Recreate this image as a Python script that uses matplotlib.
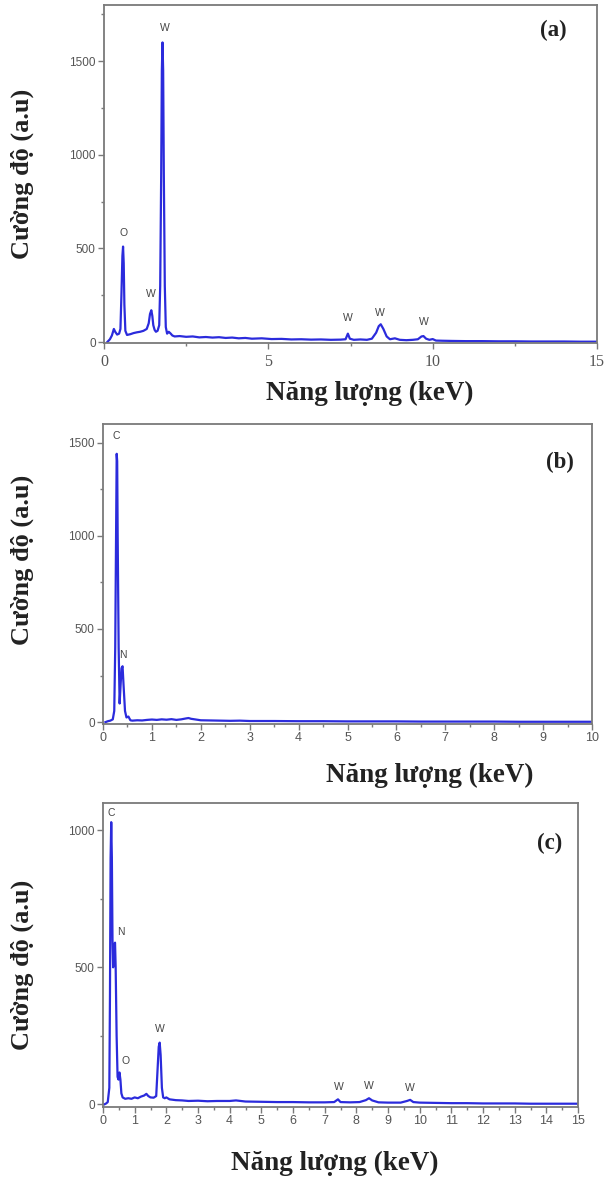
import matplotlib
matplotlib.use("Agg")
import matplotlib.pyplot as plt
from matplotlib.ticker import MultipleLocator

# ---------------- data ----------------
energy_a = [0.10, 0.18, 0.24, 0.30, 0.34, 0.40, 0.46, 0.50, 0.53, 0.56, 0.58, 0.60, 0.62, 0.65,
            0.70, 0.80, 0.90, 1.00, 1.10, 1.20, 1.30, 1.36, 1.40, 1.44, 1.47, 1.50, 1.54, 1.58,
            1.63, 1.68, 1.71, 1.74, 1.76, 1.78, 1.80, 1.82, 1.85, 1.88, 1.92, 1.97, 2.03, 2.08,
            2.15, 2.30, 2.50, 2.70, 2.90, 3.10, 3.30, 3.50, 3.70, 3.90, 4.10, 4.30, 4.50, 4.80,
            5.10, 5.40, 5.70, 6.00, 6.30, 6.60, 6.90, 7.20, 7.35, 7.42, 7.48, 7.60, 7.80, 8.00,
            8.15, 8.28, 8.36, 8.42, 8.50, 8.60, 8.70, 8.85, 9.00, 9.20, 9.40, 9.55, 9.66, 9.72,
            9.80, 9.90, 10.00, 10.10, 10.30, 10.60, 11.00, 11.50, 12.00, 12.50, 13.00, 13.50,
            14.00, 14.50, 15.00]
counts_a = [0, 15, 35, 70, 55, 40, 45, 70, 250, 460, 510, 420, 200, 60,
            38, 42, 48, 52, 55, 60, 70, 100, 150, 170, 140, 90, 65, 55,
            60, 90, 300, 900, 1450, 1600, 1450, 900, 300, 80, 45, 55, 45, 35,
            30, 32, 28, 30, 25, 27, 24, 26, 22, 24, 20, 22, 18, 20,
            16, 17, 14, 15, 13, 14, 12, 13, 15, 45, 18, 12, 14, 12,
            18, 50, 85, 95, 70, 30, 15, 20, 12, 10, 12, 15, 30, 32,
            18, 12, 16, 8, 7, 6, 5, 5, 4, 4, 3, 3,
            3, 2, 2]
peaks_a = ["O", "W", "W", "W", "W", "W"]
peak_x_a = [0.58, 1.42, 1.85, 7.43, 8.39, 9.72]
peak_y_a = [555, 230, 1650, 100, 130, 80]

energy_b = [0.05, 0.10, 0.15, 0.20, 0.23, 0.25, 0.27, 0.28, 0.29, 0.30, 0.32, 0.34, 0.36,
            0.38, 0.40, 0.42, 0.45, 0.48, 0.52, 0.56, 0.60, 0.70, 0.80, 0.90, 1.00, 1.10,
            1.20, 1.30, 1.40, 1.50, 1.60, 1.70, 1.75, 1.80, 1.90, 2.00, 2.20, 2.40, 2.60,
            2.80, 3.00, 3.50, 4.00, 4.50, 5.00, 5.50, 6.00, 6.50, 7.00, 7.50, 8.00, 8.50,
            9.00, 9.50, 10.00]
counts_b = [0, 5, 8, 15, 60, 400, 1100, 1440, 1400, 1000, 400, 100, 200,
            290, 300, 200, 60, 25, 30, 10, 8, 10, 9, 12, 14, 12,
            15, 13, 16, 12, 15, 20, 22, 18, 14, 10, 9, 8, 7,
            8, 6, 6, 5, 5, 4, 4, 4, 3, 3, 3, 3, 2,
            2, 2, 2]
peaks_b = ["C", "N"]
peak_x_b = [0.27, 0.40]
peak_y_b = [1510, 335]

energy_c = [0.05, 0.10, 0.15, 0.20, 0.22, 0.24, 0.26, 0.28, 0.30, 0.32, 0.35, 0.38, 0.40,
            0.43, 0.46, 0.49, 0.52, 0.55, 0.58, 0.62, 0.70, 0.80, 0.90, 1.00, 1.10, 1.20,
            1.30, 1.37, 1.43, 1.50, 1.60, 1.68, 1.72, 1.76, 1.79, 1.82, 1.86, 1.90, 1.95,
            2.00, 2.10, 2.30, 2.50, 2.70, 3.00, 3.30, 3.60, 4.00, 4.20, 4.50, 5.00, 5.50,
            6.00, 6.50, 7.00, 7.30, 7.42, 7.50, 7.80, 8.10, 8.30, 8.40, 8.50, 8.70, 9.00,
            9.40, 9.60, 9.70, 9.80, 10.00, 10.50, 11.00, 11.50, 12.00, 12.50, 13.00, 13.50,
            14.00, 14.50, 15.00]
counts_c = [0, 3, 8, 60, 400, 900, 1030, 900, 600, 500, 580, 590, 500,
            250, 100, 90, 116, 90, 40, 25, 20, 22, 20, 25, 22, 28,
            32, 38, 30, 25, 24, 30, 120, 210, 225, 180, 60, 25, 22,
            25, 18, 15, 14, 12, 13, 11, 12, 12, 14, 10, 9, 8,
            8, 7, 7, 8, 18, 8, 7, 8, 15, 22, 14, 7, 6,
            6, 12, 16, 8, 6, 5, 4, 4, 3, 3, 3, 2,
            2, 2, 2]
peaks_c = ["C", "N", "O", "W", "W", "W", "W"]
peak_x_c = [0.25, 0.55, 0.70, 1.78, 7.46, 8.41, 9.70]
peak_y_c = [1045, 610, 140, 255, 46, 50, 40]

# ---------------- styling ----------------
LINE = "#2b2bdc"
SPINE = "#7a7a7a"
TICKC = "#555555"
SERIF = ["Liberation Serif", "DejaVu Serif"]
SANS = ["Liberation Sans", "DejaVu Sans"]

fig = plt.figure(figsize=(6.05, 11.80), dpi=100)

W, H = 605.0, 1180.0
def box(l, r, t, b):
    return [l / W, 1 - b / H, (r - l) / W, (b - t) / H]

panels = [
    dict(rect=box(104, 597, 5, 343), x=energy_a, y=counts_a, xlim=(0, 15), ylim=(-5, 1800),
         xmaj=5, xmin=2.5, ymaj=500, ymin=250, names=peaks_a, px=peak_x_a, py=peak_y_a,
         tag="(a)", tagpos=(0.911, 0.925), xlab=(0.54, -0.148), ylab=(-0.166, 0.5),
         xtickserif=True),
    dict(rect=box(103, 592, 424, 724), x=energy_b, y=counts_b, xlim=(0, 10), ylim=(-10, 1600),
         xmaj=1, xmin=0.5, ymaj=500, ymin=250, names=peaks_b, px=peak_x_b, py=peak_y_b,
         tag="(b)", tagpos=(0.935, 0.873), xlab=(0.669, -0.173), ylab=(-0.166, 0.547),
         xtickserif=False),
    dict(rect=box(103, 578, 803, 1107), x=energy_c, y=counts_c, xlim=(0, 15), ylim=(-10, 1100),
         xmaj=1, xmin=0.5, ymaj=500, ymin=250, names=peaks_c, px=peak_x_c, py=peak_y_c,
         tag="(c)", tagpos=(0.941, 0.868), xlab=(0.488, -0.184), ylab=(-0.17, 0.467),
         xtickserif=False),
]

for p in panels:
    ax = fig.add_axes(p["rect"])
    ax.plot(p["x"], p["y"], color=LINE, lw=1.6)
    ax.set_xlim(*p["xlim"])
    ax.set_ylim(*p["ylim"])
    ax.xaxis.set_major_locator(MultipleLocator(p["xmaj"]))
    ax.xaxis.set_minor_locator(MultipleLocator(p["xmin"]))
    ax.yaxis.set_major_locator(MultipleLocator(p["ymaj"]))
    ax.yaxis.set_minor_locator(MultipleLocator(p["ymin"]))
    for s in ax.spines.values():
        s.set_color(SPINE)
        s.set_linewidth(1.3)
    ax.tick_params(which="both", direction="out", color=SPINE, labelcolor=TICKC,
                   top=False, right=False)
    ax.tick_params(which="major", length=4, width=1, pad=2)
    ax.tick_params(which="minor", length=2.5, width=1)
    for lab in ax.get_yticklabels():
        lab.set_fontfamily(SANS)
        lab.set_fontsize(8.5)
    for lab in ax.get_xticklabels():
        if p["xtickserif"]:
            lab.set_fontfamily(SERIF)
            lab.set_fontsize(11.5)
        else:
            lab.set_fontfamily(SANS)
            lab.set_fontsize(9)
    if p["xtickserif"]:
        ax.tick_params(axis="x", which="major", pad=4)
    for n, xx, yy in zip(p["names"], p["px"], p["py"]):
        ax.text(xx, yy, n, fontsize=7.5, family=SANS, color="#444444",
                ha="center", va="bottom")
    ax.text(p["tagpos"][0], p["tagpos"][1], p["tag"], transform=ax.transAxes,
            fontsize=16.5, fontweight="bold", family=SERIF, ha="center", va="center",
            color="#222222")
    ax.set_xlabel("Năng lượng (keV)", fontsize=19.5, fontweight="bold", family=SERIF,
                  color="#222222")
    ax.set_ylabel("Cường độ (a.u)", fontsize=19, fontweight="bold", family=SERIF,
                  color="#222222")
    ax.xaxis.set_label_coords(*p["xlab"])
    ax.yaxis.set_label_coords(*p["ylab"])
    ax.xaxis.label.set_va("center")
    ax.yaxis.label.set_va("center")

fig.savefig("out.png", dpi=100, facecolor="white")
